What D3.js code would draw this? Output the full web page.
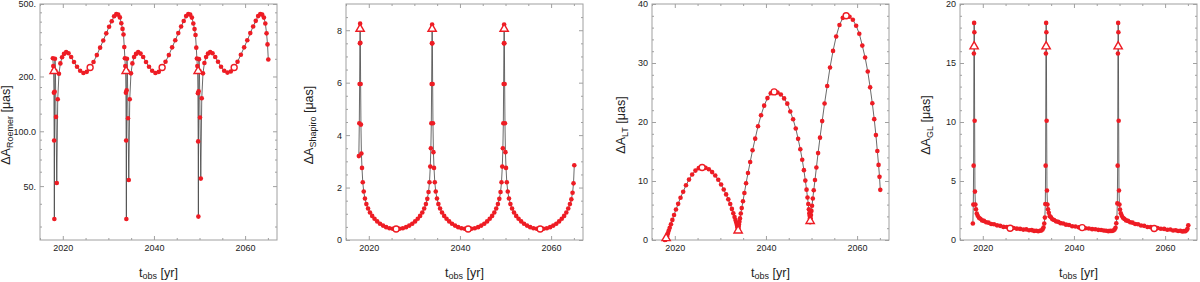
<!DOCTYPE html>
<meta charset="utf-8">
<head>
    <script type="text/javascript" src="https://cdn.jsdelivr.net/npm/d3@7"></script>
    <style>
        body { margin: 0; background: #fff; }
        text { font-family: "Liberation Sans", Arial, Helvetica, sans-serif; fill: #222; }
        .tick line { stroke: #a0a0a0; }
        .tick text { font-size: 9px; }
    </style>
    <title>S2 astrometric effects</title>
</head>
<body>
<div id="chart"></div>
<script>
    // observation epochs [yr], shared by the four panels
    var tObs = [
        2017.82, 2017.92, 2017.99, 2018.05, 2018.10, 2018.15, 2018.21, 2018.28, 2018.38, 2018.51, 2018.68, 2018.89,
        2019.16, 2019.47, 2019.84, 2020.26, 2020.74, 2021.26, 2021.84, 2022.46, 2023.12, 2023.81, 2024.53, 2025.26,
        2026.00, 2026.74, 2027.47, 2028.19, 2028.88, 2029.54, 2030.16, 2030.74, 2031.26, 2031.74, 2032.16, 2032.53,
        2032.84, 2033.11, 2033.32, 2033.49, 2033.62, 2033.72, 2033.79, 2033.85, 2033.90, 2033.95, 2034.01, 2034.08,
        2034.18, 2034.31, 2034.48, 2034.69, 2034.96, 2035.27, 2035.64, 2036.06, 2036.54, 2037.06, 2037.64, 2038.26,
        2038.92, 2039.61, 2040.33, 2041.06,
        2041.80, 2042.54, 2043.27, 2043.99, 2044.68, 2045.34, 2045.96, 2046.54, 2047.06, 2047.54, 2047.96, 2048.33,
        2048.64, 2048.91, 2049.12, 2049.29, 2049.42, 2049.52, 2049.59, 2049.65, 2049.70, 2049.75, 2049.81, 2049.88,
        2049.98, 2050.11, 2050.28, 2050.49, 2050.76, 2051.07, 2051.44, 2051.86, 2052.34, 2052.86, 2053.44, 2054.06,
        2054.72, 2055.41, 2056.13, 2056.86,
        2057.60, 2058.34, 2059.07, 2059.79, 2060.48, 2061.14, 2061.76, 2062.34, 2062.86, 2063.34, 2063.76, 2064.13,
        2064.44, 2064.71, 2064.92, 2065.09
    ];

    // Delta A [muas] for each effect
    var dRoemer = [
        252, 228, 215, 163, 89, 33, 165, 250, 215, 120, 52, 150, 207, 236, 255, 266, 272, 268, 256, 240, 226, 215, 209, 212,
        224, 240, 262, 288, 315, 345, 375, 402, 428, 440, 437, 422, 392, 365, 340, 290, 252, 228, 215, 163,
        89, 33, 168, 250, 214, 118, 54, 150, 208, 236, 256, 266, 272, 267, 256, 240, 226, 215, 209, 212,
        224, 241, 262, 289, 316, 346, 376, 403, 429, 441, 437, 421, 391, 364, 338, 288, 251, 228, 214, 162,
        88, 34, 166, 249, 215, 119, 55, 152, 208, 237, 256, 267, 272, 268, 256, 241, 226, 215, 210, 213,
        224, 241, 263, 289, 316, 346, 376, 404, 429, 441, 437, 421, 391, 345, 300, 248
    ];
    var dShapiro = [
        3.2, 4.45, 5.95, 7.5, 8.25, 7.52, 5.95, 4.4, 3.3, 2.75, 2.2, 1.85, 1.58, 1.37, 1.2, 1.05, 0.92, 0.81, 0.71, 0.62, 0.55, 0.49, 0.45, 0.43,
        0.42, 0.43, 0.45, 0.49, 0.55, 0.62, 0.71, 0.81, 0.92, 1.05, 1.2, 1.37, 1.57, 1.83, 2.2, 2.8, 3.5, 4.45, 5.95, 7.5,
        8.22, 7.5, 5.95, 4.45, 3.35, 2.75, 2.2, 1.85, 1.58, 1.37, 1.2, 1.05, 0.92, 0.81, 0.71, 0.62, 0.55, 0.49, 0.45, 0.43,
        0.42, 0.43, 0.45, 0.49, 0.55, 0.62, 0.71, 0.81, 0.92, 1.05, 1.2, 1.37, 1.57, 1.83, 2.2, 2.8, 3.5, 4.45, 5.95, 7.5,
        8.22, 7.5, 5.95, 4.45, 3.35, 2.75, 2.2, 1.85, 1.58, 1.37, 1.2, 1.05, 0.92, 0.81, 0.71, 0.62, 0.55, 0.49, 0.45, 0.43,
        0.42, 0.43, 0.45, 0.49, 0.55, 0.62, 0.71, 0.81, 0.92, 1.05, 1.2, 1.37, 1.55, 1.8, 2.16, 2.85
    ];
    var dLT = [
        0.0, 0.05, 0.1, 0.15, 0.2, 0.32, 0.44, 0.62, 0.87, 1.17, 1.59, 2.08, 2.68, 3.41, 4.25, 5.16, 6.13, 7.16, 8.19, 9.28, 10.24, 11.09, 11.76, 12.18,
        12.3, 12.23, 11.99, 11.51, 10.94, 10.2, 9.41, 8.57, 7.73, 6.89, 6.11, 5.27, 4.53, 3.9, 3.38, 2.96, 2.59, 2.33, 2.17, 2.01,
        1.8, 2.03, 2.27, 2.62, 3.08, 3.66, 4.48, 5.41, 6.58, 7.97, 9.61, 11.35, 13.22, 15.2, 17.18, 19.28, 21.14, 22.77, 24.05, 24.87,
        25.1, 24.99, 24.66, 24.0, 23.11, 21.79, 20.46, 18.91, 17.14, 15.38, 13.61, 11.84, 10.07, 8.53, 7.2, 6.09, 5.21, 4.55, 4.1, 3.66,
        3.0, 3.35, 3.7, 4.23, 4.93, 5.8, 7.03, 8.43, 10.18, 12.28, 14.73, 17.35, 20.15, 23.13, 26.1, 29.25, 32.05, 34.5, 36.43, 37.65,
        38.0, 37.83, 37.33, 36.32, 34.97, 32.95, 30.92, 28.56, 25.87, 23.17, 20.48, 17.78, 15.08, 12.73, 10.7, 8.5
    ];
    var dGL = [
        1.4, 3.0, 6.3, 15.8, 18.4, 17.6, 10.1, 4.1, 3.0, 2.6, 2.25, 2.05, 1.88, 1.8, 1.66, 1.62, 1.5, 1.47, 1.36, 1.34, 1.24, 1.2, 1.11, 1.1,
        1.04, 1.02, 0.96, 0.94, 0.88, 0.9, 0.82, 0.84, 0.77, 0.79, 0.74, 0.78, 0.8, 0.9, 1.05, 1.4, 1.9, 3.05, 6.3, 15.8,
        18.4, 17.6, 10.1, 4.2, 3.0, 2.6, 2.3, 2.02, 1.92, 1.76, 1.7, 1.58, 1.54, 1.43, 1.4, 1.3, 1.27, 1.17, 1.15, 1.07,
        1.05, 0.99, 0.98, 0.92, 0.91, 0.86, 0.85, 0.8, 0.79, 0.75, 0.77, 0.76, 0.81, 0.88, 1.04, 1.42, 1.88, 3.1, 6.3, 15.8,
        18.4, 17.6, 10.1, 4.2, 3.0, 2.58, 2.27, 2.06, 1.88, 1.79, 1.66, 1.62, 1.5, 1.47, 1.36, 1.33, 1.23, 1.2, 1.1, 1.09,
        1.0, 1.01, 0.95, 0.94, 0.87, 0.89, 0.81, 0.83, 0.76, 0.78, 0.72, 0.75, 0.74, 0.82, 0.95, 1.25
    ];

    // periastron (triangles) and apoastron (open circles) markers
    var periYears = [2018.1, 2033.9, 2049.7];
    var apoYears = [2026.0, 2041.8, 2057.6];
    var roemerPeri = [214, 214, 214], roemerApo = [224, 224, 224];
    var shapiroPeri = [8.05, 8.05, 8.05], shapiroApo = [0.42, 0.42, 0.42];
    var ltPeri = [0.3, 1.6, 3.2], ltApo = [12.3, 25.1, 38.0];
    var glPeri = [16.4, 16.4, 16.4], glApo = [1.0, 1.05, 0.97];

    // tick labels
    var xTicks = [2020, 2040, 2060];
    var roemerTicks = [50, 100, 200, 500];
    var roemerTickText = ["50.", "100.0", "200.", "500."];
    var roemerMinor = [30, 40, 60, 70, 80, 90, 125, 150, 175, 250, 300, 350, 400, 450];
    var shapiroTicks = [0, 2, 4, 6, 8];
    var ltTicks = [0, 10, 20, 30, 40];
    var glTicks = [0, 5, 10, 15, 20];

    var panels = [
        {left: 40, labelX: 10, sub: "Roemer", values: dRoemer, peri: roemerPeri, apo: roemerApo, log: true,
         domain: [25.3, 500], ticks: roemerTicks, tickText: roemerTickText, minor: roemerMinor},
        {left: 346, labelX: 313, sub: "Shapiro", values: dShapiro, peri: shapiroPeri, apo: shapiroApo,
         domain: [0, 9], ticks: shapiroTicks, minor: d3.range(0.5, 9, 0.5)},
        {left: 652, labelX: 625, sub: "LT", values: dLT, peri: ltPeri, apo: ltApo,
         domain: [0, 40], ticks: ltTicks, minor: d3.range(2, 40, 2)},
        {left: 960, labelX: 930, sub: "GL", values: dGL, peri: glPeri, apo: glApo,
         domain: [0, 20], ticks: glTicks, minor: d3.range(1, 20, 1)}
    ];

    var width = 1200, height = 282;
    var plotTop = 4, plotBottom = 240, pw = 237;
    var red = "#ee1c24";

    var svg = d3.select("#chart").append("svg")
        .attr("width", width)
        .attr("height", height);

    panels.forEach(function (p) {
        var x = d3.scaleLinear().domain([2015, 2067]).range([p.left, p.left + pw]);
        var y = (p.log ? d3.scaleLog() : d3.scaleLinear()).domain(p.domain).range([plotBottom, plotTop]);
        var g = svg.append("g");
        var xMinor = d3.range(2015, 2067, 5).filter(function (d) { return xTicks.indexOf(d) < 0; });
        var yMinor = p.minor.filter(function (d) { return p.ticks.indexOf(d) < 0; });
        var fmt = p.tickText ? function (d) { return p.tickText[p.ticks.indexOf(d)]; } : d3.format("d");

        // axes with inward ticks on all four sides
        g.append("g").attr("transform", "translate(0," + plotBottom + ")")
            .call(d3.axisBottom(x).tickValues(xTicks).tickSize(-4).tickPadding(5).tickFormat(d3.format("d")));
        g.append("g").attr("transform", "translate(0," + plotBottom + ")")
            .call(d3.axisBottom(x).tickValues(xMinor).tickSize(-2).tickFormat(""));
        g.append("g").attr("transform", "translate(0," + plotTop + ")")
            .call(d3.axisTop(x).tickValues(xTicks).tickSize(-4).tickFormat(""));
        g.append("g").attr("transform", "translate(0," + plotTop + ")")
            .call(d3.axisTop(x).tickValues(xMinor).tickSize(-2).tickFormat(""));
        g.append("g").attr("transform", "translate(" + p.left + ",0)")
            .call(d3.axisLeft(y).tickValues(p.ticks).tickSize(-4).tickPadding(4).tickFormat(fmt));
        g.append("g").attr("transform", "translate(" + p.left + ",0)")
            .call(d3.axisLeft(y).tickValues(yMinor).tickSize(-2).tickFormat(""));
        g.append("g").attr("transform", "translate(" + (p.left + pw) + ",0)")
            .call(d3.axisRight(y).tickValues(p.ticks).tickSize(-4).tickFormat(""));
        g.append("g").attr("transform", "translate(" + (p.left + pw) + ",0)")
            .call(d3.axisRight(y).tickValues(yMinor).tickSize(-2).tickFormat(""));
        g.selectAll(".domain").remove();

        g.append("rect")
            .attr("x", p.left).attr("y", plotTop)
            .attr("width", pw).attr("height", plotBottom - plotTop)
            .attr("fill", "none").attr("stroke", "#a0a0a0").attr("stroke-width", 1);

        // joining line, then the dots over it
        var line = d3.line()
            .x(function (d, i) { return x(tObs[i]); })
            .y(function (d) { return y(d); });
        g.append("path")
            .datum(p.values)
            .attr("d", line)
            .attr("fill", "none")
            .attr("stroke", "#444")
            .attr("stroke-width", 0.8);

        g.append("g").selectAll("circle")
            .data(p.values).enter()
            .append("circle")
            .attr("cx", function (d, i) { return x(tObs[i]); })
            .attr("cy", function (d) { return y(d); })
            .attr("r", 2.3)
            .attr("fill", red);

        // markers
        g.append("g").selectAll("path")
            .data(p.peri).enter()
            .append("path")
            .attr("d", d3.symbol().type(d3.symbolTriangle).size(30))
            .attr("transform", function (d, i) { return "translate(" + x(periYears[i]) + "," + y(d) + ")"; })
            .attr("fill", "#fff").attr("stroke", red).attr("stroke-width", 1.4);
        g.append("g").selectAll("circle")
            .data(p.apo).enter()
            .append("circle")
            .attr("cx", function (d, i) { return x(apoYears[i]); })
            .attr("cy", function (d) { return y(d); })
            .attr("r", 3)
            .attr("fill", "#fff").attr("stroke", red).attr("stroke-width", 1.4);

        // axis labels
        var yl = g.append("text")
            .attr("transform", "translate(" + p.labelX + ",125) rotate(-90)")
            .attr("text-anchor", "middle")
            .attr("font-size", 12.5);
        yl.append("tspan").text("\u0394A");
        yl.append("tspan").attr("font-size", 9).attr("dy", 3).text(p.sub);
        yl.append("tspan").attr("dy", -3).text(" [\u03bcas]");

        var xl = g.append("text")
            .attr("x", p.left + pw / 2).attr("y", 277)
            .attr("text-anchor", "middle")
            .attr("font-size", 12.5);
        xl.append("tspan").text("t");
        xl.append("tspan").attr("font-size", 9).attr("dy", 2).text("obs");
        xl.append("tspan").attr("dy", -2).text(" [yr]");
    });
</script>
</body>
</html>
